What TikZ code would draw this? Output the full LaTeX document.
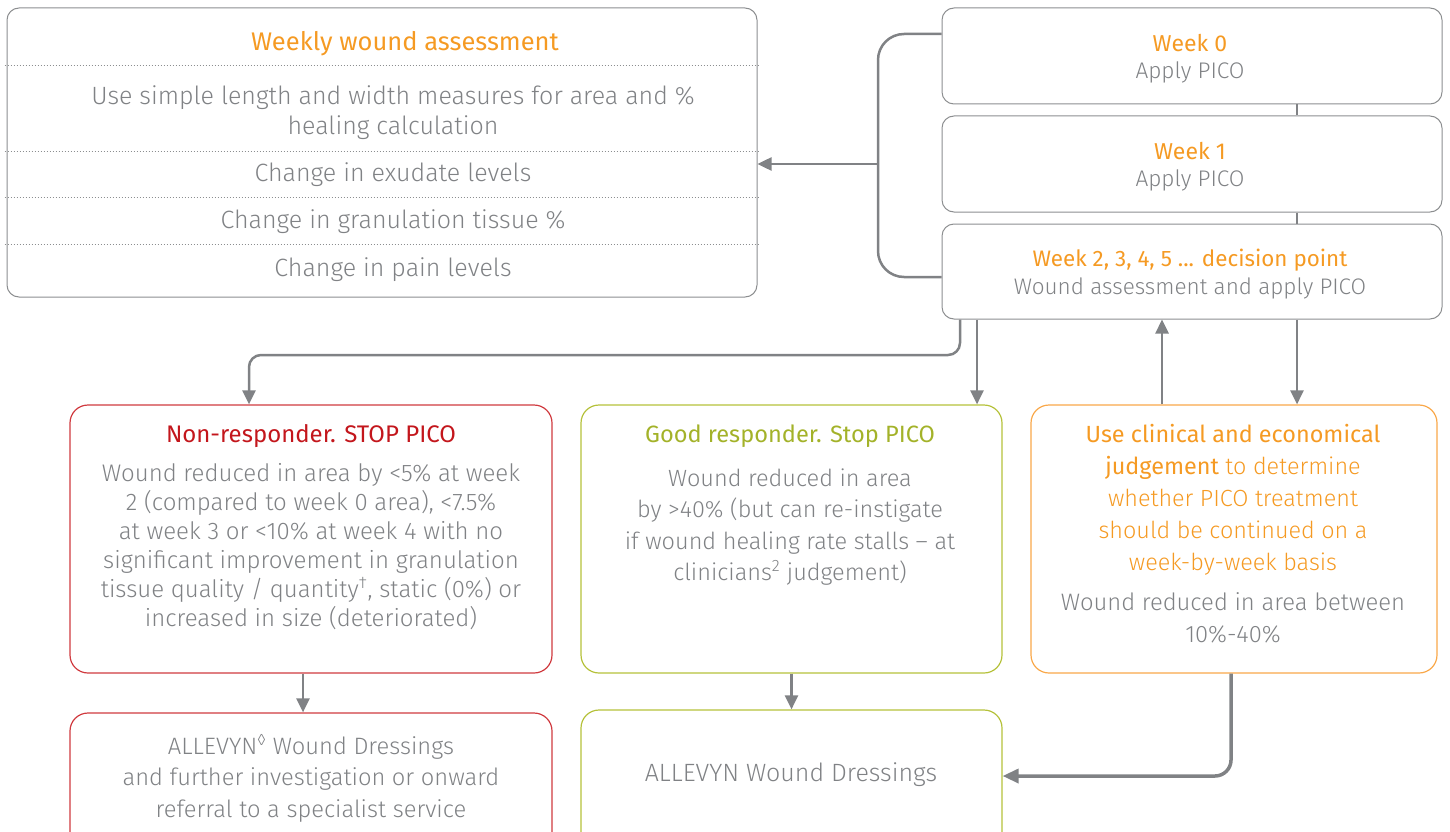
\documentclass[tikz,border=0pt]{standalone}
\usepackage{fontspec}
\setmainfont{Fira Sans Light}[BoldFont={Fira Sans}]
\newfontfamily\medfont{Fira Sans}
\usetikzlibrary{arrows.meta,calc}
\definecolor{tgrey}{HTML}{808285}
\definecolor{lgrey}{HTML}{808285}
\definecolor{bgrey}{HTML}{8C8E90}
\definecolor{orng}{HTML}{F59A23}
\definecolor{orngb}{HTML}{F9A84A}
\definecolor{redt}{HTML}{C3161C}
\definecolor{redb}{HTML}{D03A3F}
\definecolor{grnt}{HTML}{A3B229}
\definecolor{grnb}{HTML}{B5C13A}
\newcommand{\fs}[2]{\fontsize{#1}{#2}\selectfont}
\begin{document}
\begin{tikzpicture}[x=1pt,y=-1pt,
  box/.style={draw=bgrey, line width=1pt, rounded corners=12pt, inner sep=0pt},
  rbox/.style={line width=1.2pt, rounded corners=18pt, inner sep=0pt},
  conn/.style={draw=lgrey, line width=2.5pt},
  arr/.style={conn, -{Triangle[width=13pt,length=14pt]}},
  dots/.style={draw=bgrey, line width=1pt, dash pattern=on 1pt off 2pt},
  txt/.style={inner sep=0pt, align=center, text=tgrey},
  ttl/.style={inner sep=0pt, align=center}]
\useasboundingbox (0,0) rectangle (1450,832);
% boxes
\node[box, minimum width=750pt, minimum height=289pt] (assess) at (382,152.5) {};
\node[box, minimum width=500pt, minimum height=96pt] (w0) at (1192,56) {};
\node[box, minimum width=500pt, minimum height=96pt] (w1) at (1192,164) {};
\node[box, minimum width=500pt, minimum height=95pt] (w2) at (1192,271.5) {};
\node[rbox, draw=redb, minimum width=482pt, minimum height=268pt] (nonr) at (311,539) {};
\node[rbox, draw=grnb, minimum width=421pt, minimum height=268pt] (good) at (791.5,539) {};
\node[rbox, draw=orngb, minimum width=406pt, minimum height=268pt] (judge) at (1234,539) {};
\node[rbox, draw=redb, minimum width=482pt, minimum height=140pt] (allev1) at (311,783) {};
\node[rbox, draw=grnb, minimum width=421pt, minimum height=140pt] (allev2) at (791.5,780) {};
% dotted separators
\foreach \yy in {66,151,197,244}{
  \draw[dots] ([xshift=-2pt]assess.west |- 0,\yy) -- ([xshift=2pt]assess.east |- 0,\yy);
}
% texts: assessment
\node[ttl, text=orng, font=\medfont\fs{25.5}{30}] (t-assess) at (405,44) {Weekly wound assessment};
\node[txt, font=\fs{25}{30}] (t-a1) at (393,113) {Use simple length and width measures for area and \%\\healing calculation};
\node[txt, font=\fs{25}{30}] (t-a2) at (393,175) {Change in exudate levels};
\node[txt, font=\fs{25}{30}] (t-a3) at (393,222) {Change in granulation tissue \%};
\node[txt, font=\fs{25}{30}] (t-a4) at (393,269.5) {Change in pain levels};
% weeks
\node[ttl, text=orng, font=\medfont\fs{23}{28}] (t-w0) at (1190,43.5) {Week 0};
\node[txt, font=\fs{22.6}{28}] (t-w0b) at (1190,72) {Apply PICO};
\node[ttl, text=orng, font=\medfont\fs{23}{28}] (t-w1) at (1190,151.5) {Week 1};
\node[txt, font=\fs{22.6}{28}] (t-w1b) at (1190,180) {Apply PICO};
\node[ttl, text=orng, font=\medfont\fs{22.4}{28}] (t-w2) at (1190,260) {Week 2, 3, 4, 5 ... decision point};
\node[txt, font=\fs{22.5}{28}] (t-w2b) at (1190,288) {Wound assessment and apply PICO};
% non-responder
\node[ttl, text=redt, font=\medfont\fs{24}{29}] (t-nr) at (311,436) {Non-responder. STOP PICO};
\node[txt, font=\fs{24}{29}] (t-nrb) at (311,547) {Wound reduced in area by <5\% at week\\2 (compared to week 0 area), <7.5\%\\at week 3 or <10\% at week 4 with no\\significant improvement in granulation\\tissue quality / quantity\textsuperscript{\textdagger}, static (0\%) or\\increased in size (deteriorated)};
% good responder
\node[ttl, text=grnt, font=\medfont\fs{23.6}{30}] (t-gr) at (790,436) {Good responder. Stop PICO};
\node[txt, font=\fs{23.5}{31.5}] (t-grb) at (790,527) {Wound reduced in area\\by >40\% (but can re-instigate\\if wound healing rate stalls -- at\\clinicians\textsuperscript{2} judgement)};
% judgement
\node[txt, text=orng, font=\fs{23.4}{32}] (t-j) at (1233,500) {{\medfont Use clinical and economical}\\{\medfont judgement} to determine\\whether PICO treatment\\should be continued on a\\week-by-week basis};
\node[txt, font=\fs{23.8}{32}] (t-jb) at (1233,618) {Wound reduced in area between\\10\%-40\%};
% bottom boxes
\node[txt, font=\fs{23.7}{31.5}] (t-al1) at (311,778) {ALLEVYN\textsuperscript{◊} Wound Dressings\\and further investigation or onward\\referral to a specialist service};
\node[txt, font=\fs{25}{30}] (t-al2) at (791,775) {ALLEVYN Wound Dressings};
% connectors
\coordinate (bx) at (878,164);
\draw[conn, rounded corners=26pt] ([yshift=22pt]w0.west) -| (bx) |- ([yshift=-5.5pt]w2.west);
\draw[arr] (bx) -- (assess.east |- bx);
\draw[conn] ([xshift=105pt]w0.south) -- ([xshift=105pt]w1.north);
\draw[conn] ([xshift=105pt]w1.south) -- ([xshift=105pt]w2.north);
\coordinate (nrmid) at (249,355);
\draw[arr, rounded corners=12pt] ([xshift=-232pt]w2.south) |- (nrmid) -- (nonr.north -| nrmid);
\draw[arr] ([xshift=-215pt]w2.south) -- ([xshift=-215pt]w2.south |- good.north);
\draw[arr] ([xshift=-30pt]w2.south |- judge.north) -- ([xshift=-30pt]w2.south);
\draw[arr] ([xshift=105pt]w2.south) -- ([xshift=105pt]w2.south |- judge.north);
\draw[arr] ([xshift=-8pt]nonr.south) -- ([xshift=-8pt]nonr.south |- allev1.north);
\draw[arr] (good.south) -- (allev2.north);
\draw[conn, line width=3.5pt, rounded corners=16pt, -{Triangle[width=14pt,length=16pt]}] ([xshift=-3pt]judge.south) |- ([yshift=4pt]allev2.east);
\end{tikzpicture}
\end{document}
